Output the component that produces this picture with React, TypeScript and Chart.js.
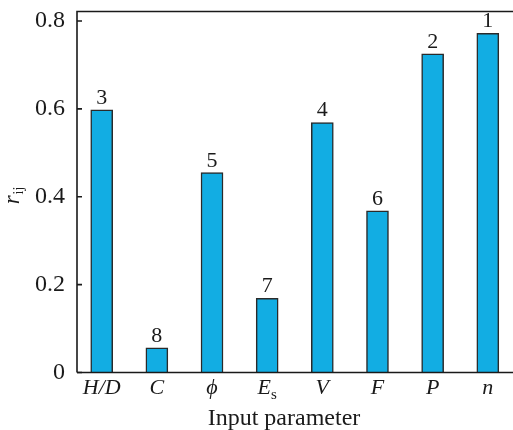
import React, { useEffect, useRef } from "react";
import { Chart, registerables } from "chart.js";

Chart.register(...registerables);

const categories = ["H/D", "C", "ϕ", "Es", "V", "F", "P", "n"];
const values = [0.598, 0.056, 0.455, 0.169, 0.569, 0.368, 0.725, 0.772];
const ranks = ["3", "8", "5", "7", "4", "6", "2", "1"];
const yTicks = [0, 0.2, 0.4, 0.6, 0.8];

const SERIF = '"Liberation Serif", "DejaVu Serif", serif';
const INK = "#1a1a1a";
const BAR = "#12ade3";

const decorPlugin = {
  id: "decor",
  afterDraw(chart: any) {
    const ctx = chart.ctx;
    const area = chart.chartArea;
    const xs = chart.scales.x;
    const ys = chart.scales.y;
    ctx.save();
    // frame (left, top, bottom)
    ctx.strokeStyle = INK;
    ctx.lineWidth = 1.6;
    ctx.beginPath();
    ctx.moveTo(area.left, area.bottom);
    ctx.lineTo(chart.width + 2, area.bottom);
    ctx.moveTo(area.left, area.bottom);
    ctx.lineTo(area.left, area.top);
    ctx.lineTo(chart.width + 2, area.top);
    ctx.stroke();
    // inward y ticks
    ctx.beginPath();
    yTicks.forEach((v) => {
      const py = ys.getPixelForValue(v);
      ctx.moveTo(area.left, py);
      ctx.lineTo(area.left + 5, py);
    });
    ctx.stroke();

    ctx.fillStyle = INK;
    // rank labels
    const meta = chart.getDatasetMeta(0);
    ctx.font = `22px ${SERIF}`;
    ctx.textAlign = "center";
    ctx.textBaseline = "alphabetic";
    meta.data.forEach((el: any, i: number) => {
      ctx.fillText(ranks[i], el.x, el.y - 6);
    });

    // x category labels
    const baseY = area.bottom + 21;
    categories.forEach((c, i) => {
      const px = xs.getPixelForValue(i);
      if (c === "Es") {
        ctx.font = `italic 22px ${SERIF}`;
        const w1 = ctx.measureText("E").width;
        ctx.font = `15px ${SERIF}`;
        const w2 = ctx.measureText("s").width;
        const start = px - (w1 + w2) / 2;
        ctx.textAlign = "left";
        ctx.font = `italic 22px ${SERIF}`;
        ctx.fillText("E", start, baseY);
        ctx.font = `15px ${SERIF}`;
        ctx.fillText("s", start + w1, baseY + 5);
        ctx.textAlign = "center";
      } else {
        ctx.font = `italic 22px ${SERIF}`;
        ctx.textAlign = "center";
        ctx.fillText(c, px, baseY);
      }
    });

    // x title
    ctx.font = `24px ${SERIF}`;
    ctx.textAlign = "center";
    ctx.fillText("Input parameter", 284, 425);

    // y title r_ij rotated
    ctx.translate(19, 196);
    ctx.rotate(-Math.PI / 2);
    ctx.font = `italic 23px ${SERIF}`;
    const rw = ctx.measureText("r").width;
    ctx.font = `14px ${SERIF}`;
    const sw = ctx.measureText("ij").width;
    const st = -(rw + sw) / 2;
    ctx.textAlign = "left";
    ctx.font = `italic 23px ${SERIF}`;
    ctx.fillText("r", st, 0);
    ctx.font = `14px ${SERIF}`;
    ctx.fillText("ij", st + rw + 1, 4);
    ctx.restore();
  },
};

export default function App() {
  const ref = useRef<HTMLCanvasElement | null>(null);
  useEffect(() => {
    if (!ref.current) return;
    const chart = new Chart(ref.current, {
      type: "bar",
      data: {
        datasets: [
          {
            data: values.map((v, i) => ({ x: i, y: v })),
            backgroundColor: BAR,
            borderColor: "#2a2a2a",
            borderWidth: 1.5,
            barThickness: 22,
          },
        ],
      },
      options: {
        animation: false,
        responsive: false,
        devicePixelRatio: 1,
        layout: { padding: { left: 0, right: 0, top: 11.5, bottom: 0 } },
        plugins: { legend: { display: false }, tooltip: { enabled: false } },
        scales: {
          x: {
            type: "linear",
            min: -0.448,
            max: 7.457,
            offset: false,
            grid: { display: false },
            border: { display: false },
            ticks: { display: false },
            afterFit: (s: any) => {
              s.height = 57.5;
              s.paddingLeft = 0;
              s.paddingRight = 0;
            },
          },
          y: {
            min: 0,
            max: 0.8216,
            grid: { display: false },
            border: { display: false },
            ticks: {
              stepSize: 0.2,
              includeBounds: false,
              color: INK,
              padding: 4,
              font: { family: SERIF, size: 24 },
              callback: (v: any) => (v === 0 ? "0" : Number(v).toFixed(1)),
            },
            afterFit: (s: any) => {
              s.width = 77;
              s.paddingTop = 0;
              s.paddingBottom = 0;
            },
          },
        },
      } as any,
      plugins: [decorPlugin],
    });
    return () => chart.destroy();
  }, []);
  return (
    <div style={{ position: "fixed", left: 0, top: 0, width: 513, height: 430, background: "#fff" }}>
      <canvas ref={ref} width={513} height={430} style={{ display: "block" }} />
    </div>
  );
}
